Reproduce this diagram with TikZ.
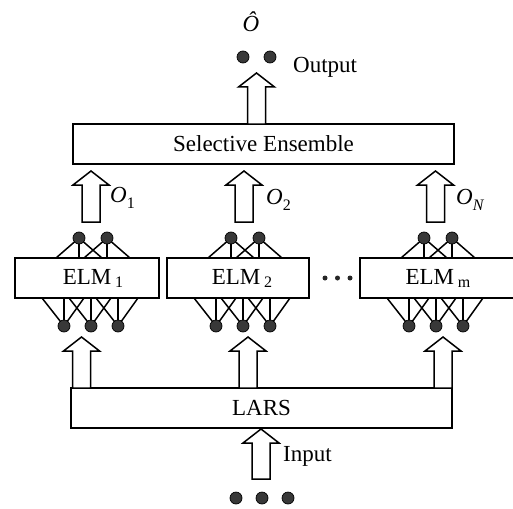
\documentclass[tikz,border=0pt]{standalone}
\usepackage{fontspec}
\setmainfont{Liberation Serif}
\newcommand\lowsub[2]{\raisebox{-#1}{\fontsize{16}{16}\selectfont #2}}
\newcommand\blockup[3]{%
  \draw[blk] ({#1-9},#3) -- ({#1-9},{#2+14}) -- ({#1-18},{#2+14}) -- (#1,#2)
    -- ({#1+18},{#2+14}) -- ({#1+9},{#2+14}) -- ({#1+9},#3) -- cycle;}
\newcommand\elmnet[2]{%
  \foreach \i/\dx in {1/64,2/92}{
    \foreach \o in {-23,0,23} \draw[wire] ({#1+\dx},238) -- ({#1+\dx+\o},258);
    \node[dot] (#2t\i) at ({#1+\dx},238) {};
  }
  \foreach \i/\dx in {1/49,2/76,3/103}{
    \foreach \o in {-22,0,20} \draw[wire] ({#1+\dx},326) -- ({#1+\dx+\o},298);
    \node[dot] (#2b\i) at ({#1+\dx},326) {};
  }}
\begin{document}
\begin{tikzpicture}[x=1pt,y=-1pt,
  font=\fontsize{23}{27}\selectfont,
  box/.style={draw,line width=1.5pt,fill=white,minimum height=40pt,inner sep=0pt},
  blk/.style={draw,line width=1.5pt,fill=white,line join=miter},
  wire/.style={line width=1.5pt},
  dot/.style={circle,draw=black,line width=0.7pt,fill=black!78,inner sep=0pt,minimum size=12pt},
  sdot/.style={circle,fill=black!85,inner sep=0pt,minimum size=5pt}]
\useasboundingbox (0,0) rectangle (513,508);

% boxes
\node[box,minimum width=381pt] (se) at (263.5,144) {Selective Ensemble};
\node[box,minimum width=381pt] (lars) at (261.5,408) {LARS};

% ELM networks
\elmnet{15}{e1}
\elmnet{167}{e2}
\elmnet{360}{em}
\node[box,minimum width=144pt] (elm1) at (87,278) {};
\node[box,minimum width=142pt] (elm2) at (238,278) {};
\node[box,minimum width=155pt] (elmm) at (437.5,278) {};
\node (elm1t) at (93,278) {ELM\,\lowsub{3pt}{1}};
\node (elm2t) at (242,278) {ELM\,\lowsub{3pt}{2}};
\node (elmmt) at (438,278) {ELM\,\lowsub{3pt}{m}};

% ellipsis between ELM boxes
\node[sdot] (d1) at (325,278) {};
\node[sdot] (d2) at (337.5,278) {};
\node[sdot] (d3) at (350,278) {};

% block arrows
\blockup{256.5}{73}{124}
\blockup{91}{171}{222}
\blockup{244}{171}{222}
\blockup{435.5}{171}{222}
\blockup{81.5}{337}{388}
\blockup{248}{337}{388}
\blockup{443}{337}{388}
\blockup{261}{429}{479}

% output dots and label
\node[dot] (o1) at (243,57) {};
\node[dot] (o2) at (270,57) {};
\node[anchor=base] (ohat) at (251,32) {\itshape Ô};
\node[anchor=base west,inner sep=0pt] (outl) at (293,73) {Output};

% O labels
\node[anchor=base west,inner sep=0pt] (lo1) at (110,202) {\itshape O\lowsub{6pt}{\upshape 1}};
\node[anchor=base west,inner sep=0pt] (lo2) at (266,204) {\itshape O\lowsub{6pt}{\upshape 2}};
\node[anchor=base west,inner sep=0pt] (lon) at (456,204) {\itshape O\lowsub{6pt}{N}};

% input
\node[anchor=base west,inner sep=0pt] (inl) at (283,461) {Input};
\node[dot] (i1) at (236,498) {};
\node[dot] (i2) at (262,498) {};
\node[dot] (i3) at (288,498) {};
\end{tikzpicture}
\end{document}
